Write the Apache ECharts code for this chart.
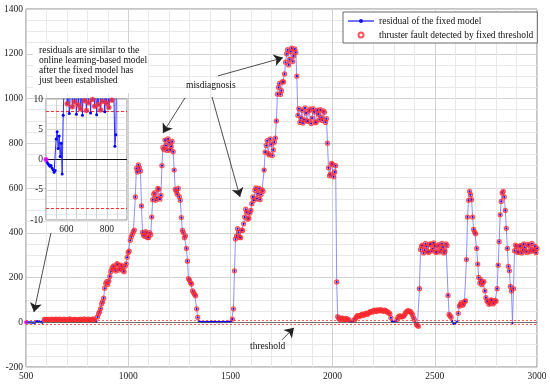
<!DOCTYPE html>
<html><head><meta charset="utf-8">
<script src="https://cdn.jsdelivr.net/npm/echarts@6/dist/echarts.min.js"></script>
<style>html,body{margin:0;padding:0;background:#fff}#c{width:550px;height:386px}</style>
</head><body><div id="c"></div>
<script>
// ---- data ----
const sampleStep = 5;
const earlyStart = 500;                         // x = 500..900
const earlyValues = [
  0, -0.4, -0.7, -0.9, -1.1, -1.0, -1.4, -1.7, -2.1, -1.8,
  3.4, 4.6, 1.8, 3.9, 0.5, 2.7, -2.4, 7.3, 12.6, 11.4,
  13.1, 9.2, 12.2, 7.6, 10.9, 14.0, 8.7, 11.6, 9.5, 13.3,
  7.5, 12.7, 9.0, 14.4, 8.4, 11.1, 7.3, 13.6, 9.7, 10.8,
  8.1, 12.9, 9.4, 14.8, 7.7, 11.9, 9.9, 13.0, 8.8, 12.3,
  7.4, 10.6, 9.1, 14.1, 8.2, 12.0, 9.6, 15.2, 7.9, 11.4,
  9.3, 13.7, 8.6, 10.2, 12.8, 9.8, 14.5, 11.0, 2.2, 4.1,
  24, 38, 47, 61, 83, 92, 108, 152, 174, 181,
  169
];
const laterStart = 905;                         // x = 905..3000
const laterValues = [
  184, 205, 226, 238, 247, 252, 236, 229, 262, 257, 233, 241, 255, 248, 231, 226, 250, 261, 290, 312,
  318, 366, 382, 393, 405, 412, 560, 688, 671, 703, 690, 676, 520, 402, 389, 384, 405, 397, 378, 379,
  401, 391, 470, 548, 572, 579, 545, 556, 598, 594, 550, 567, 700, 781, 772, 814, 790, 768, 820, 803,
  770, 786, 808, 762, 680, 594, 585, 572, 598, 561, 545, 468, 410, 401, 378, 386, 330, 273, 195, 188,
  176, 171, 140, 132, 124, 118, 60, 22, 6, 3, 2, 1, 0, 2, 1, 0, 2, 2, 1, 1,
  2, 3, 1, 2, 2, 1, 0, 2, 1, 0, 1, 1, 2, 2, 1, 1, 2, 3, 2, 2,
  6, 14, 60, 230, 372, 385, 418, 402, 380, 378, 412, 410, 440, 470, 505, 492, 460, 465, 488, 500,
  530, 560, 545, 590, 600, 552, 575, 598, 548, 571, 592, 585, 680, 760, 790, 812, 755, 748, 820, 795,
  745, 770, 805, 823, 900, 1020, 1050, 1068, 1018, 1035, 1075, 1074, 1110, 1162, 1200, 1218, 1150, 1175, 1210, 1225,
  1165, 1190, 1222, 1206, 1100, 925, 955, 893, 912, 948, 890, 905, 958, 935, 900, 898, 945, 952, 888, 912,
  955, 940, 892, 895, 948, 930, 905, 950, 915, 902, 945, 938, 893, 910, 800, 690, 655, 662, 710, 705,
  650, 672, 700, 180, 25, 18, 12, 14, 19, 16, 11, 12, 17, 15, 11, 10, 4, 2, 1, 3,
  9, 15, 22, 28, 30, 25, 29, 33, 36, 30, 34, 38, 41, 35, 40, 44, 47, 48, 45, 52,
  54, 50, 48, 55, 53, 51, 56, 53, 50, 49, 54, 52, 47, 45, 42, 38, 20, 5, 3, 2,
  3, 4, 12, 22, 26, 28, 24, 25, 27, 30, 38, 45, 50, 52, 49, 48, 42, 35, 22, 12,
  -2, -10, -14, -18, 150, 325, 340, 345, 310, 322, 352, 338, 316, 312, 348, 350, 318, 328, 355, 341,
  312, 315, 340, 347, 314, 325, 352, 336, 310, 318, 350, 342, 120, 35, 28, 22, 5, -6, -8, -4,
  0, 3, 40, 72, 80, 88, 76, 80, 92, 95, 280, 470, 545, 585, 570, 548, 470, 415, 402, 395,
  330, 260, 200, 175, 190, 168, 178, 182, 140, 110, 95, 92, 80, 85, 100, 98, 82, 88, 97, 94,
  150, 255, 360, 480, 540, 578, 585, 560, 500, 420, 330, 250, 230, 160, 140, -5, 150, 320, 345, 338,
  312, 315, 340, 342, 310, 322, 350, 335, 318, 312, 348, 345, 315, 326, 352, 318, 322, 340, 311, 330
];
const threshold = 8;
const startPoint = [500, 0];
const seriesNames = ['residual of the fixed model', 'thruster fault detected by fixed threshold'];
const noteText = ['residuals are similar to the', 'online learning-based model', 'after the fixed model has', 'just been established'];
const insetXLabels = [600, 800];

// ---- build ----
const residual = [];
earlyValues.forEach((v, i) => residual.push([earlyStart + i * sampleStep, v]));
laterValues.forEach((v, i) => residual.push([laterStart + i * sampleStep, v]));
const detected = residual.filter(p => Math.abs(p[1]) > threshold);

const FONT = "'Liberation Serif','Times New Roman',serif";
const gridMajor = { color: '#d2d2d2', width: 1 };
const gridMinor = { color: '#e8e8e8', width: 1 };
const labelStyle = { color: '#222', fontFamily: FONT, fontSize: 9.5, formatter: v => String(v) };

const chart = echarts.init(document.getElementById('c'), null, { renderer: 'canvas' });
chart.setOption({
  animation: false,
  backgroundColor: '#fff',
  grid: [
    { left: 26, right: 13, top: 9, bottom: 19, show: true, borderColor: '#8a8a8a', borderWidth: 1, z: 0 },
    { left: 46, top: 99, width: 81, height: 121, show: true, backgroundColor: '#fff', borderColor: '#8a8a8a', borderWidth: 1, z: 4 }
  ],
  xAxis: [
    { type: 'value', gridIndex: 0, min: 500, max: 3000, interval: 500,
      axisLine: { show: false }, axisTick: { show: false },
      axisLabel: Object.assign({}, labelStyle, { margin: 4 }),
      splitLine: { show: true, lineStyle: gridMajor },
      minorTick: { show: false, splitNumber: 5 },
      minorSplitLine: { show: true, lineStyle: gridMinor } },
    { type: 'value', gridIndex: 1, min: 500, max: 900, interval: 50, z: 5,
      axisLine: { show: false }, axisTick: { show: false },
      axisLabel: Object.assign({}, labelStyle, { margin: 4, formatter: v => insetXLabels.includes(v) ? String(v) : '' }),
      splitLine: { show: true, lineStyle: gridMajor } }
  ],
  yAxis: [
    { type: 'value', gridIndex: 0, min: -200, max: 1400, interval: 200,
      axisLine: { show: false }, axisTick: { show: false },
      axisLabel: Object.assign({}, labelStyle, { margin: 3 }),
      splitLine: { show: true, lineStyle: gridMajor },
      minorTick: { show: false, splitNumber: 4 },
      minorSplitLine: { show: true, lineStyle: gridMinor } },
    { type: 'value', gridIndex: 1, min: -10, max: 10, interval: 5, z: 5,
      axisLine: { show: false }, axisTick: { show: false },
      axisLabel: Object.assign({}, labelStyle, { margin: 3 }),
      splitLine: { show: true, lineStyle: gridMajor },
      minorTick: { show: false, splitNumber: 5 },
      minorSplitLine: { show: true, lineStyle: gridMinor } }
  ],
  legend: {
    left: 343, top: 12, orient: 'vertical', itemGap: 4, itemWidth: 26, itemHeight: 5,
    padding: [4, 4, 3, 4], borderColor: '#444', borderWidth: 0.8, backgroundColor: '#fff',
    textStyle: { fontFamily: FONT, fontSize: 9.5, color: '#111' },
    data: seriesNames
  },
  series: [
    { name: seriesNames[0], type: 'line', xAxisIndex: 0, yAxisIndex: 0, data: residual,
      symbol: 'circle', symbolSize: 2.2, showSymbol: true, showAllSymbol: true, z: 2,
      lineStyle: { color: '#7373ff', width: 0.8 }, itemStyle: { color: '#1010ff' },
      markLine: { silent: true, symbol: 'none', label: { show: false },
        data: [
          { yAxis: threshold, lineStyle: { color: '#ff3030', type: [2, 2], width: 0.8 } },
          { yAxis: -threshold, lineStyle: { color: '#ff3030', type: [2, 2], width: 0.8 } },
          { yAxis: 0, lineStyle: { color: '#555', type: 'solid', width: 0.8 } }
        ] } },
    { name: seriesNames[1], type: 'scatter', xAxisIndex: 0, yAxisIndex: 0, data: detected,
      symbol: 'circle', symbolSize: 4, z: 3,
      itemStyle: { color: 'rgba(255,255,255,0)', borderColor: '#ff2a2a', borderWidth: 1.3 } },
    { name: 'start', type: 'scatter', xAxisIndex: 0, yAxisIndex: 0, data: [startPoint],
      symbol: 'circle', symbolSize: 4, z: 3, itemStyle: { color: '#ff00ff' },
      markLine: { silent: true, symbol: ['none', 'arrow'], symbolSize: 9, label: { show: false },
        lineStyle: { color: '#222', width: 0.8, type: 'solid' },
        data: [
          [{ coord: [1278, 1003] }, { coord: [1170, 846] }],
          [{ coord: [1410, 1007] }, { coord: [1547, 560] }],
          [{ coord: [1439, 1101] }, { coord: [1757, 1182] }],
          [{ coord: [622, 399] }, { coord: [539, 46] }],
          [{ coord: [1752, -79] }, { coord: [1811, -25] }]
        ] } },
    // inset
    { name: 'inset residual', type: 'line', xAxisIndex: 1, yAxisIndex: 1, data: residual, clip: true,
      symbol: 'circle', symbolSize: 3, showSymbol: true, showAllSymbol: true, z: 6,
      lineStyle: { color: '#2a2aff', width: 1 }, itemStyle: { color: '#0000ff' },
      markLine: { silent: true, symbol: 'none', label: { show: false },
        data: [
          { yAxis: threshold, lineStyle: { color: '#ff3030', type: [3, 2], width: 1 } },
          { yAxis: -threshold, lineStyle: { color: '#ff3030', type: [3, 2], width: 1 } },
          { yAxis: 0, lineStyle: { color: '#111', type: 'solid', width: 1 } }
        ] } },
    { name: 'inset detected', type: 'scatter', xAxisIndex: 1, yAxisIndex: 1, data: detected, clip: true,
      symbol: 'circle', symbolSize: 5, z: 7,
      itemStyle: { color: '#ff3a3a', borderColor: '#ff2020', borderWidth: 0.5 } },
    { name: 'inset start', type: 'scatter', xAxisIndex: 1, yAxisIndex: 1, data: [startPoint],
      symbol: 'circle', symbolSize: 5, z: 7, itemStyle: { color: '#ff00ff' } }
  ],
  graphic: [
    { type: 'rect', z: 8, shape: { x: 33, y: 43, width: 115, height: 50 }, style: { fill: '#fff' } },
    { type: 'text', z: 9, left: 39, top: 45,
      style: { text: noteText.join('\n'), font: '9.5px ' + FONT, lineHeight: 10.2, fill: '#111' } },
    { type: 'text', z: 9, left: 186, top: 80, style: { text: 'misdiagnosis', font: '9.5px ' + FONT, fill: '#111' } },
    { type: 'text', z: 9, left: 250, top: 341, style: { text: 'threshold', font: '9.5px ' + FONT, fill: '#111' } }
  ]
});
</script></body></html>
